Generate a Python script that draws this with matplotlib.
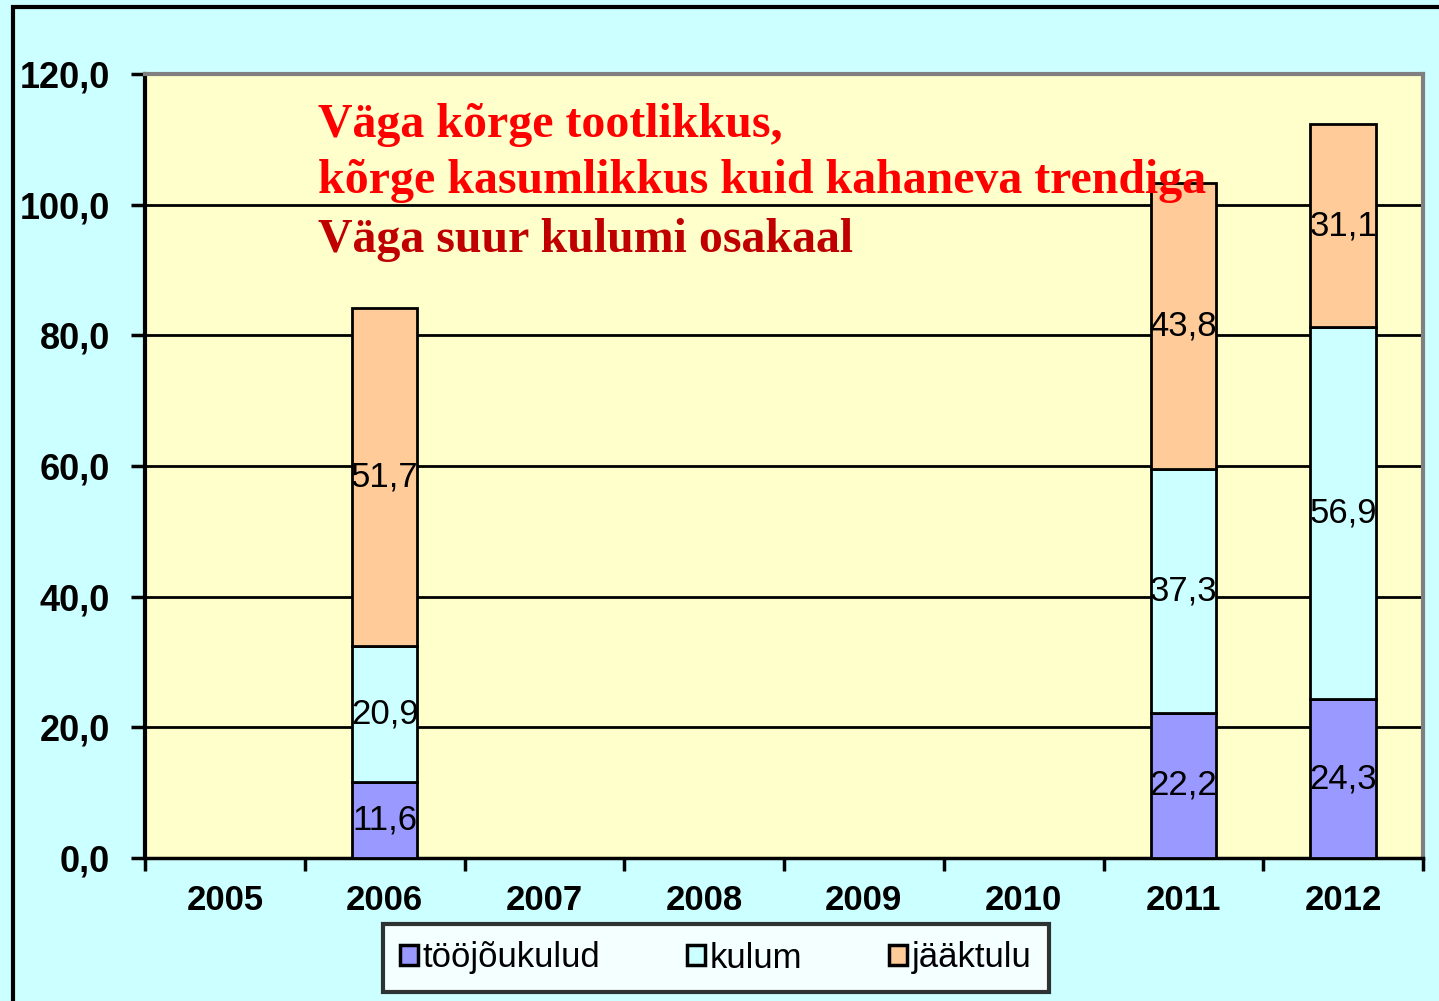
import matplotlib.pyplot as plt
from matplotlib.patches import Rectangle
import numpy as np

# andmed
years = ['2005', '2006', '2007', '2008', '2009', '2010', '2011', '2012']
toojoukulud = [0, 11.6, 0, 0, 0, 0, 22.2, 24.3]
kulum = [0, 20.9, 0, 0, 0, 0, 37.3, 56.9]
jaaktulu = [0, 51.7, 0, 0, 0, 0, 43.8, 31.1]
series_names = ['tööjõukulud', 'kulum', 'jääktulu']
series_colors = ['#9999FF', '#CCFFFF', '#FFCC99']
yticks = [0, 20, 40, 60, 80, 100, 120]
note_lines = ['Väga kõrge tootlikkus,',
              'kõrge kasumlikkus kuid kahaneva trendiga',
              'Väga suur kulumi osakaal']
note_colors = ['#FF0000', '#FF0000', '#C00000']

plt.rcParams['font.family'] = ['Liberation Sans', 'DejaVu Sans']

fig = plt.figure(figsize=(14.39, 10.01), dpi=100)
fig.patch.set_facecolor('#CCFFFF')
# välimine raam (vasak ja ülemine serv näha)
fig.patches.append(Rectangle((13 / 1439, -0.1), 1.2, 1 - 7 / 1001 + 0.1,
                             transform=fig.transFigure, fill=False,
                             edgecolor='black', lw=3))

ax = fig.add_axes([145 / 1439, 1 - 858 / 1001, (1423 - 145) / 1439, (858 - 74) / 1001])
ax.set_facecolor('#FFFFCC')

x = np.arange(len(years))
width = 0.41
bottom = np.zeros(len(years))
for vals, name, col in zip([toojoukulud, kulum, jaaktulu], series_names, series_colors):
    vals = np.array(vals)
    mask = vals > 0
    ax.bar(x[mask], vals[mask], width, bottom=bottom[mask], color=col,
           edgecolor='black', lw=2, label=name, zorder=3)
    for xi, v, b in zip(x[mask], vals[mask], bottom[mask]):
        ax.text(xi, b + v / 2, f'{v:.1f}'.replace('.', ','), ha='center', va='center',
                fontsize=25, color='black', zorder=4)
    bottom = bottom + vals

ax.set_xlim(-0.5, len(years) - 0.5)
ax.set_ylim(0, 120)
ax.set_yticks(yticks)
ax.set_yticklabels([f'{t:.1f}'.replace('.', ',') for t in yticks],
                   fontsize=26, fontweight='bold')
ax.set_xticks(x)
ax.set_xticklabels(years, fontsize=25, fontweight='bold')
ax.set_xticks(np.arange(-0.5, len(years), 1), minor=True)
ax.tick_params(axis='x', which='major', length=0, pad=19)
ax.tick_params(axis='x', which='minor', length=9, width=2.5, direction='out')
ax.tick_params(axis='y', length=10, width=2.5, pad=15)

ax.yaxis.grid(True, color='black', lw=2)
ax.set_axisbelow(True)
ax.spines['left'].set_linewidth(3)
ax.spines['bottom'].set_linewidth(2.5)
for s in ['top', 'right']:
    ax.spines[s].set_color('#808080')
    ax.spines[s].set_linewidth(3)

ybase = [0.9196, 0.848, 0.773]
for txt, c, yb in zip(note_lines, note_colors, ybase):
    ax.text(0.1354, yb, txt, transform=ax.transAxes, ha='left', va='baseline',
            fontsize=34.5, fontweight='bold', color=c,
            family=['Liberation Serif', 'DejaVu Serif'], zorder=5)

leg = fig.legend(loc='center', bbox_to_anchor=(716 / 1439, 1 - 958 / 1001), ncol=3,
                 fontsize=25, frameon=True, fancybox=False, handlelength=0.5,
                 handleheight=0.5, handletextpad=0.15, columnspacing=2.5,
                 borderpad=0.5, borderaxespad=0)
leg.get_frame().set_edgecolor('black')
leg.get_frame().set_linewidth(3)
leg.get_frame().set_facecolor('white')
for h in leg.legend_handles:
    h.set_linewidth(2.5)

fig.savefig('out.png', dpi=100, facecolor=fig.get_facecolor())
